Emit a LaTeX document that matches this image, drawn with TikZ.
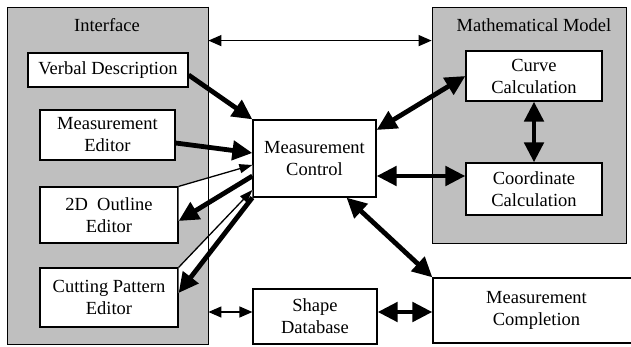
\documentclass[tikz,border=0pt]{standalone}
\usepackage{fontspec}
\setmainfont{Liberation Serif}
\usepackage{tikz}
\usetikzlibrary{arrows.meta,positioning}

\begin{document}
\begin{tikzpicture}[
    x=1pt, y=-1pt,
    panel/.style={draw, fill=black!25, line width=0.8pt, inner sep=0},
    box/.style={draw, fill=white, line width=1.2pt, inner sep=0, align=center,
        font=\fontsize{18.5}{22}\selectfont},
    title/.style={anchor=base, inner sep=0, font=\fontsize{18.5}{22}\selectfont},
    heavy/.style={line width=4.8pt, -{Triangle[length=20pt,width=19pt]}},
    heavyboth/.style={line width=4.8pt, {Triangle[length=20pt,width=19pt]}-{Triangle[length=20pt,width=19pt]}},
    light/.style={line width=1.3pt, -{Triangle[length=13pt,width=9pt]}},
    lightboth/.style={line width=1.3pt, {Triangle[length=13pt,width=11pt]}-{Triangle[length=13pt,width=11pt]}},
    wedge/.style={fill=white, draw=none}]
\useasboundingbox (0,0) rectangle (631,347);
\clip (0,0) rectangle (631,347);

\node[panel, minimum width=201pt, minimum height=337pt] (iface) at (107.5,175.5) {};
\node[panel, minimum width=194pt, minimum height=236pt] (math) at (529,125) {};
\node[title] (ifacelabel) at (107,32) {Interface};
\node[title] (mathlabel) at (534,32) {Mathematical Model};

\node[box, minimum width=160pt, minimum height=34pt] (verbal) at (108,70) {Verbal Description};
\node[box, minimum width=135pt, minimum height=50pt] (measedit) at (107.5,135) {Measurement\\Editor};
\node[box, minimum width=138pt, minimum height=56pt] (outline) at (109,215) {2D\ \ Outline\\Editor};
\node[box, minimum width=138pt, minimum height=59pt] (cutting) at (109,297.5) {Cutting Pattern\\Editor};
\node[box, minimum width=123pt, minimum height=77pt] (control) at (314.5,158.5) {Measurement\\Control};
\node[box, minimum width=124pt, minimum height=55pt] (shapedb) at (315,316.5) {Shape\\Database};
\node[box, minimum width=136pt, minimum height=50pt] (curve) at (534,76) {Curve\\Calculation};
\node[box, minimum width=136pt, minimum height=52pt] (coord) at (534,189) {Coordinate\\Calculation};
\node[box, minimum width=207pt, minimum height=65pt] (completion) at (536.5,310.5) {Measurement\\Completion};

\fill[wedge] (outline.north east) -- ([yshift=-6.5pt]control.west) -- ([yshift=-17.5pt]control.west) -- ([yshift=-6pt]outline.east) -- cycle;
\fill[wedge] (cutting.north east) -- ([yshift=-31.5pt]control.west) -- (control.south west) -- ([yshift=4.5pt]cutting.east) -- cycle;
\draw[line width=0.8pt] (iface.north east) -- (iface.south east);

\draw[lightboth] ([yshift=-34pt]iface.north east) -- ([yshift=-34pt]math.north west);
\draw[heavy] ([yshift=-5pt]verbal.east) -- (control.north west);
\draw[heavy] ([yshift=-8pt]measedit.east) -- ([yshift=5.5pt]control.west);
\draw[light] (outline.north east) -- ([yshift=-6.5pt]control.west);
\draw[heavy] ([yshift=-17.5pt]control.west) -- ([yshift=-6pt]outline.east);
\draw[light] (cutting.north east) -- ([yshift=-31.5pt]control.west);
\draw[heavy] (control.south west) -- ([yshift=4.5pt]cutting.east);
\draw[heavyboth] ([yshift=28.5pt]control.east) -- (curve.west);
\draw[heavyboth] ([yshift=-17.5pt]control.east) -- ([yshift=13pt]coord.west);
\draw[heavyboth] (curve.south) -- (coord.north);
\draw[heavyboth] ([xshift=32pt]control.south) -- (completion.north west);
\draw[lightboth] ([yshift=4.5pt]shapedb.west -| iface.east) -- ([yshift=4.5pt]shapedb.west);
\draw[heavyboth] ([yshift=4.5pt]shapedb.east) -- ([yshift=4.5pt]shapedb.east -| completion.west);

\end{tikzpicture}
\end{document}
